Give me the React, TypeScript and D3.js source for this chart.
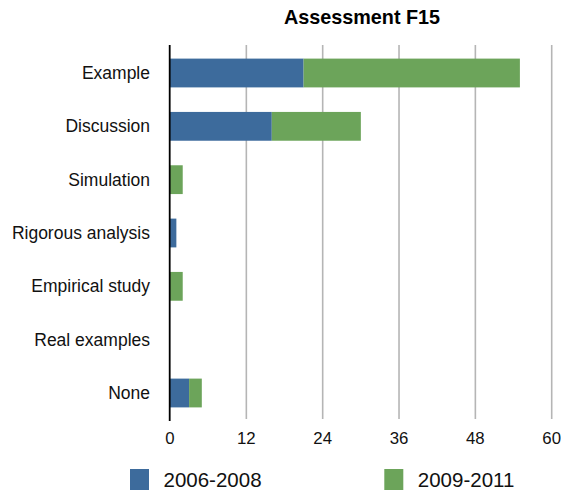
import React from "react";
import * as d3 from "d3";

const categories = ["Example", "Discussion", "Simulation", "Rigorous analysis", "Empirical study", "Real examples", "None"];
const series2006 = [21, 16, 0, 1, 0, 0, 3];
const series2009 = [34, 14, 2, 0, 2, 0, 2];
const seriesNames = ["2006-2008", "2009-2011"];
const tickValues = [0, 12, 24, 36, 48, 60];
const colors = ["#3d6b9c", "#6ca45a"];

const W = 561, H = 490;
const FONT = "'Liberation Sans', Arial, Helvetica, sans-serif";

export default function App() {
  const x = d3.scaleLinear().domain([0, 60]).range([170, 551.7]);
  const y = d3.scaleBand<string>().domain(categories).range([45, 421]).paddingInner(0.46).paddingOuter(0.255);
  const rows = categories.map((c, i) => ({ cat: c, a: series2006[i], b: series2009[i] }));
  const stack = d3.stack<any>().keys(["a", "b"])(rows);

  return (
    <svg width={W} height={H} style={{ position: "absolute", left: 0, top: 0 }}>
      <rect width={W} height={H} fill="#fff" />
      <text x={362} y={24} textAnchor="middle" fontFamily={FONT} fontWeight="bold" fontSize={19.8} fill="#000">Assessment F15</text>
      {tickValues.slice(1).map((t) => (
        <line key={t} x1={x(t)} x2={x(t)} y1={45} y2={419} stroke="#b5b5b5" strokeWidth={1.6} />
      ))}
      {stack.map((s, si) => (
        <g key={si}>
          {s.map((d, i) => (
            <rect key={i} x={x(d[0])} y={y(categories[i])} width={x(d[1]) - x(d[0])} height={y.bandwidth()} fill={colors[si]} />
          ))}
        </g>
      ))}
      <line x1={169.7} x2={169.7} y1={45} y2={421} stroke="#000" strokeWidth={1.8} />
      {categories.map((c) => (
        <text key={c} x={150} y={(y(c) as number) + y.bandwidth() / 2} dy="0.35em" textAnchor="end" fontFamily={FONT} fontSize={17.5} fill="#111">{c}</text>
      ))}
      {tickValues.map((t) => (
        <text key={t} x={x(t)} y={444} textAnchor="middle" fontFamily={FONT} fontSize={16.8} fill="#111">{t}</text>
      ))}
      {seriesNames.map((n, i) => {
        const lx = i === 0 ? 130 : 384.3;
        return (
          <g key={n}>
            <rect x={lx} y={469} width={19} height={21} fill={colors[i]} />
            <text x={lx + 33.5} y={487} fontFamily={FONT} fontSize={20.5} fill="#111">{n}</text>
          </g>
        );
      })}
    </svg>
  );
}
